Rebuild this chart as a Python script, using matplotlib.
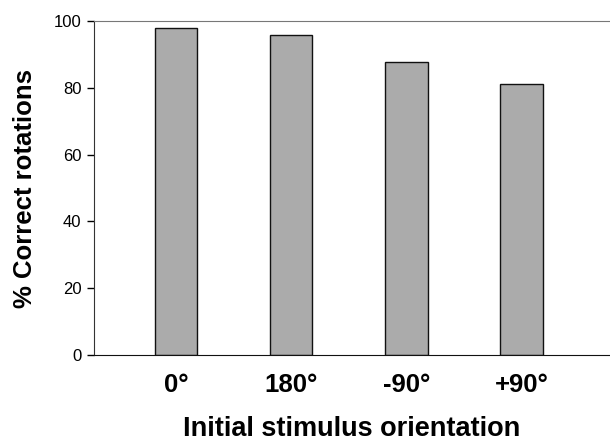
import matplotlib.pyplot as plt

orientations = ['0°', '180°', '-90°', '+90°']
correct = [97.9, 95.9, 87.6, 81.2]

plt.rcParams['font.family'] = ['Liberation Sans', 'DejaVu Sans']

fig = plt.figure(figsize=(6.1, 4.41), dpi=100)
ax = fig.add_axes([94/610, 1 - 355/441, 516/610, 334/441])

x = range(len(orientations))
ax.bar(x, correct, width=0.37, color='#ababab', edgecolor='#111111', linewidth=1.0)

ax.set_xlim(-0.713, 3.77)
ax.set_ylim(0, 100)
ax.set_yticks([0, 20, 40, 60, 80, 100])
ax.tick_params(axis='y', labelsize=12, length=5, width=1, direction='out', pad=4)
ax.set_xticks(list(x))
ax.set_xticklabels(orientations, fontsize=18.5, fontweight='bold')
ax.tick_params(axis='x', length=0, pad=13)

ax.spines['right'].set_visible(False)
ax.spines['top'].set_color('#777777')
ax.spines['left'].set_color('#333333')
ax.spines['bottom'].set_color('#111111')

ax.set_xlabel('Initial stimulus orientation', fontsize=19.5, fontweight='bold', labelpad=14)
ax.set_ylabel('% Correct rotations', fontsize=18.5, fontweight='bold', labelpad=12)

fig.savefig('out.png', dpi=100)
